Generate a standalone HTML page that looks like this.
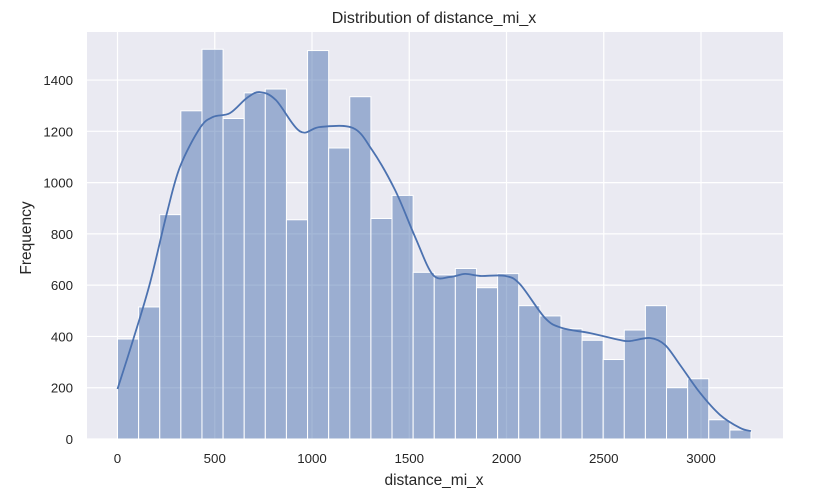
<!DOCTYPE html>
<html><head><meta charset="utf-8">
<style>
html,body{margin:0;padding:0;background:#fff;}
svg{display:block;font-family:"Liberation Sans",Arial,sans-serif;}
</style></head>
<body>
<svg id="chart" width="823" height="503" viewBox="0 0 823 503" xmlns="http://www.w3.org/2000/svg">
<rect x="87" y="32" width="696" height="407" fill="#eaeaf2"/>
<g id="grid"></g>
<g id="bars"></g>
<g id="kde"></g>
<g id="xt"></g>
<g id="yt"></g>
<text x="434" y="23" text-anchor="middle" font-size="16" fill="#262626">Distribution of distance_mi_x</text>
<text x="434" y="485" text-anchor="middle" font-size="15.5" fill="#262626">distance_mi_x</text>
<text transform="translate(31,238) rotate(-90)" text-anchor="middle" font-size="15.5" fill="#262626">Frequency</text>
</svg>
<script>
const counts=[390,515,875,1280,1520,1250,1350,1365,855,1515,1135,1335,860,950,650,640,665,590,645,520,480,430,385,310,425,520,200,235,75,35];
const binStart=0, binEnd=3257;
const kdeX=[0,80,167,254,321,424,491,578,665,732,814,938,1041,1210,1309,1427,1530,1622,1710,1787,1864,1992,2069,2198,2286,2430,2584,2635,2738,2815,2892,2995,3098,3201,3257];
const kdeY=[195,386,608,881,1061,1213,1256,1271,1330,1353,1322,1200,1217,1213,1127,971,788,640,632,644,636,636,604,472,433,413,386,382,394,367,289,180,94,43,31];
const xTicks=[0,500,1000,1500,2000,2500,3000];
const yTicks=[0,200,400,600,800,1000,1200,1400];
const NS="http://www.w3.org/2000/svg";
const X=v=>117.5+v*0.1945, Y=v=>439-v*0.2564;
function mk(t,a,p){const e=document.createElementNS(NS,t);for(const k in a)e.setAttribute(k,a[k]);p.appendChild(e);return e;}
const grid=document.getElementById('grid');
xTicks.forEach(t=>{const l=mk('line',{x1:X(t),x2:X(t),y1:32,y2:439,stroke:'#fff','stroke-width':1.2},grid);


const tx=mk('text',{x:X(t),y:463,'text-anchor':'middle','font-size':13.3,fill:'#262626'},document.getElementById('xt'));tx.textContent=t;

});
yTicks.forEach(t=>{const l=mk('line',{x1:87,x2:783,y1:Y(t),y2:Y(t),stroke:'#fff','stroke-width':1.2},grid);


const tx=mk('text',{x:73,y:Y(t)+5,'text-anchor':'end','font-size':13.3,fill:'#262626'},document.getElementById('yt'));tx.textContent=t;

});
const bw=(binEnd-binStart)/counts.length;
counts.forEach((c,i)=>{const x0=X(binStart+i*bw),x1=X(binStart+(i+1)*bw);
const r=mk('rect',{x:x0,y:Y(c),width:x1-x0,height:Y(0)-Y(c),fill:'#4c72b0','fill-opacity':0.5,stroke:'#fff','stroke-width':1},document.getElementById('bars'));

});
const pts=kdeX.map((x,i)=>[X(x),Y(kdeY[i])]);
let d='M'+pts[0][0]+','+pts[0][1];
for(let i=0;i<pts.length-1;i++){const p0=pts[Math.max(0,i-1)],p1=pts[i],p2=pts[i+1],p3=pts[Math.min(pts.length-1,i+2)];
d+=' C'+(p1[0]+(p2[0]-p0[0])/6)+','+(p1[1]+(p2[1]-p0[1])/6)+' '+(p2[0]-(p3[0]-p1[0])/6)+','+(p2[1]-(p3[1]-p1[1])/6)+' '+p2[0]+','+p2[1];}
const path=mk('path',{d:d,fill:'none',stroke:'#4c72b0','stroke-width':1.8},document.getElementById('kde'));


</script>
</body></html>
